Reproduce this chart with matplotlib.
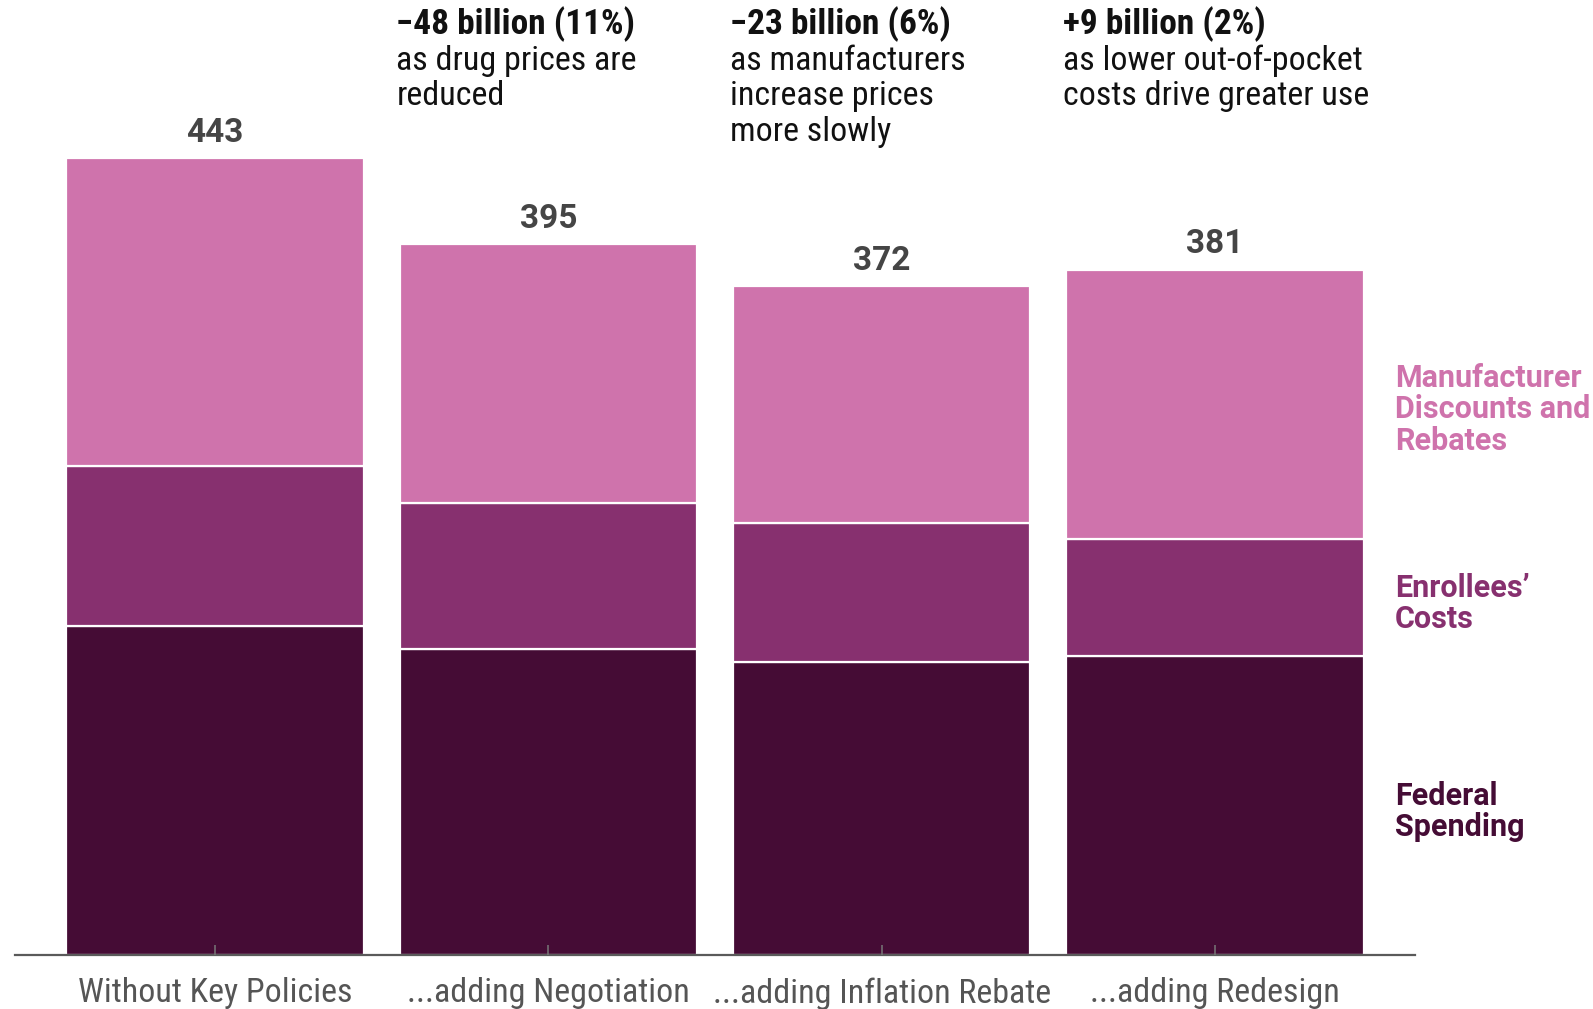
import matplotlib
matplotlib.use("Agg")
import matplotlib.pyplot as plt
import matplotlib.transforms as mtransforms
from matplotlib import font_manager

# ---- data (billions of dollars) ----
categories = ["Without Key Policies", "...adding Negotiation",
              "...adding Inflation Rebate", "...adding Redesign"]
federal = [183, 170, 163, 166]
enrollees = [89, 81, 77, 65]
manufacturer = [171, 144, 132, 150]
totals = [443, 395, 372, 381]

series_names = ["Federal\nSpending", "Enrollees\u2019\nCosts",
                "Manufacturer\nDiscounts and\nRebates"]

change_heads = ["\u221248 billion (11%)", "\u221223 billion (6%)", "+9 billion (2%)"]
change_notes = [["as drug prices are", "reduced"],
                ["as manufacturers", "increase prices", "more slowly"],
                ["as lower out-of-pocket", "costs drive greater use"]]

colors = ["#450C35", "#87306F", "#CF73AC"]


def pick_font(candidates):
    for name in candidates:
        try:
            font_manager.findfont(font_manager.FontProperties(family=name),
                                  fallback_to_default=False)
            return name
        except Exception:
            continue
    return "DejaVu Sans"


narrow = pick_font(["Liberation Sans Narrow", "Roboto Condensed", "Roboto"])
wide = pick_font(["Roboto", "Lato", "DejaVu Sans"])

W, H = 1593, 1009
fig = plt.figure(figsize=(W / 100, H / 100), dpi=100)

base_px = 955          # axis line, pixels from top
px_per_unit = 1.799
ax_left, ax_right = 15, 1415
ax = fig.add_axes([ax_left / W, 1 - base_px / H, (ax_right - ax_left) / W, base_px / H])
ax.set_xlim(-0.6, 3.6)
ax.set_ylim(0, base_px / px_per_unit)

x = list(range(len(categories)))
bw = 0.892
bottoms = [0] * len(x)
for vals, col in zip([federal, enrollees, manufacturer], colors):
    ax.bar(x, vals, bw, bottom=bottoms, color=col, edgecolor="white",
           linewidth=1.6, zorder=1)
    bottoms = [b + v for b, v in zip(bottoms, vals)]

# totals above bars
for xi, t in zip(x, totals):
    ax.text(xi, t + 9, f"{t}", ha="center", va="baseline", fontsize=24,
            fontweight="bold", color="#454545", family=wide)

# axes styling
for s in ["left", "right", "top"]:
    ax.spines[s].set_visible(False)
ax.spines["bottom"].set_color("#5a5a5a")
ax.spines["bottom"].set_linewidth(1.6)
ax.set_yticks([])
ax.set_xticks(x)
ax.set_xticklabels(categories, fontsize=24.5, color="#555555", family=narrow)
ax.tick_params(axis="x", direction="in", length=7, width=1.1, color="#777777",
               pad=16)
ax.set_axisbelow(False)

# change annotations above bars 2-4
ytrans = mtransforms.blended_transform_factory(ax.transData, fig.transFigure)
head_base = 34
line_gap = 35.6
for i, (head, notes) in enumerate(zip(change_heads, change_notes), start=1):
    xl = i - bw / 2 - 0.01
    ax.text(xl, 1 - head_base / H, head, transform=ytrans, ha="left",
            va="baseline", fontsize=25.5, fontweight="bold", color="#111111",
            family=narrow)
    for k, line in enumerate(notes):
        yb = head_base + line_gap * (k + 1)
        ax.text(xl, 1 - yb / H, line, transform=ytrans, ha="left",
                va="baseline", fontsize=24.5, color="#111111", family=narrow)

# series labels on the right
label_x = 1395 / W
label_first_base = [805, 597, 387]
for name, col, yb in zip(series_names, colors, label_first_base):
    for k, line in enumerate(name.split("\n")):
        fig.text(label_x, 1 - (yb + 31.5 * k) / H, line, ha="left",
                 va="baseline", fontsize=22, fontweight="bold", color=col,
                 family=wide)

fig.savefig("out.png", dpi=100, facecolor="white")
